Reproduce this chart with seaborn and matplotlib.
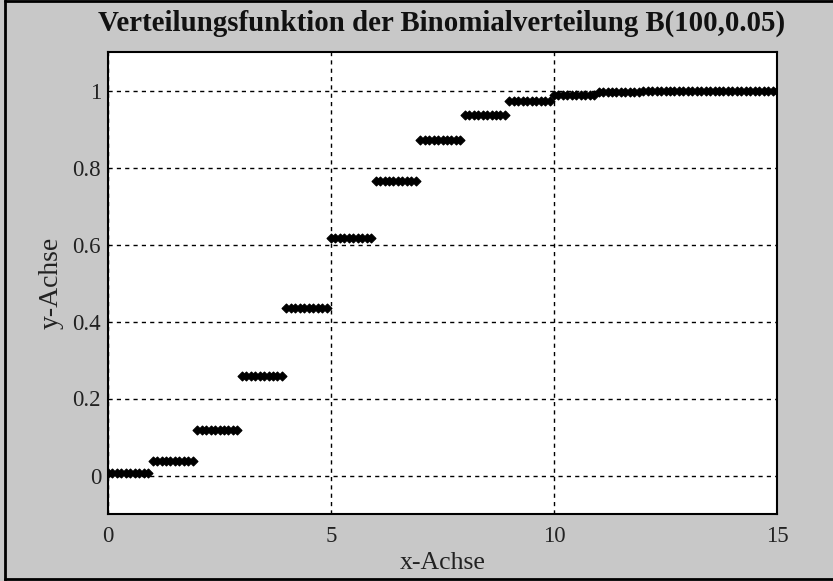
import numpy as np
import pandas as pd
import matplotlib
matplotlib.use("Agg")
import matplotlib.pyplot as plt
import seaborn as sns
from matplotlib.lines import Line2D

# Step levels of the distribution function (k = 0..15)
k_levels = list(range(16))
cdf_levels = [0.0059, 0.0371, 0.1183, 0.2578, 0.4360, 0.6160, 0.7660, 0.8720,
              0.9369, 0.9718, 0.9885, 0.9957, 0.9985, 0.9995, 0.9999, 1.0000]
x_grid = np.round(np.arange(0, 15.0001, 0.1), 1)
x_ticks = [0, 5, 10, 15]
y_ticks = [0, 0.2, 0.4, 0.6, 0.8, 1]
y_ticklabels = ["0", "0.2", "0.4", "0.6", "0.8", "1"]

df = pd.DataFrame({"x": x_grid,
                   "y": [cdf_levels[min(int(np.floor(v + 1e-9)), 15)] for v in x_grid]})

sns.set_theme(style="white")
plt.rcParams['font.family'] = ['Liberation Serif', 'DejaVu Serif']

W, H = 833, 581
fig = plt.figure(figsize=(W/100, H/100), dpi=100, facecolor="#c8c8c8")
ax = fig.add_axes([108/W, 1 - 514/H, (777-108)/W, (514-52)/H])
ax.set_facecolor("white")

sns.scatterplot(data=df, x="x", y="y", ax=ax, marker="D", s=20,
                color="black", edgecolor="black", linewidth=0.9, zorder=3)

ax.set_xlim(0, 15)
ax.set_ylim(-0.1, 1.1)
ax.set_xticks(x_ticks)
ax.set_xticklabels([str(t) for t in x_ticks])
ax.set_yticks(y_ticks)
ax.set_yticklabels(y_ticklabels)
ax.grid(True, color="black", linestyle=(0, (3, 3)), linewidth=1.0)
ax.tick_params(axis="x", length=0, pad=9, labelsize=16.5, colors="#222222")
ax.tick_params(axis="y", length=0, pad=5, labelsize=16.5, colors="#222222")
for s in ax.spines.values():
    s.set_color("black")
    s.set_linewidth(1.5)

ax.set_xlabel("x-Achse", fontsize=18.5, color="#222222", labelpad=3)
ax.set_ylabel("y-Achse", fontsize=20, color="#222222", labelpad=6)
fig.text(441.5/W, 1 - 23/H, "Verteilungsfunktion der Binomialverteilung B(100,0.05)",
         ha="center", va="center", fontsize=20.8, fontweight="bold", color="#111111")

# figure border
fig.add_artist(Line2D([5/W, 5/W], [0, 1], transform=fig.transFigure, color="black", lw=2))
fig.add_artist(Line2D([5/W, 1], [1 - 1/H, 1 - 1/H], transform=fig.transFigure, color="black", lw=2))
fig.add_artist(Line2D([5/W, 1], [2/H, 2/H], transform=fig.transFigure, color="black", lw=2))

fig.savefig("out.png", dpi=100, facecolor=fig.get_facecolor())
